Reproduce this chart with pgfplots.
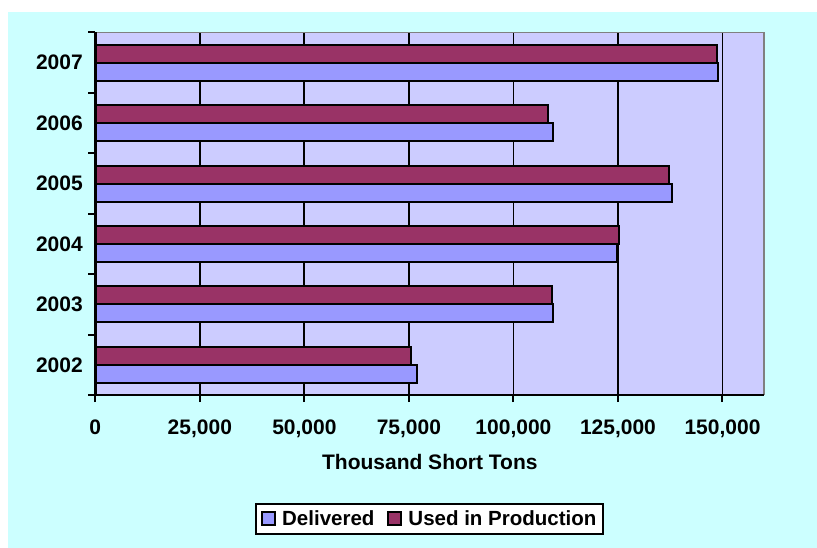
\documentclass[border=0pt]{standalone}
\usepackage{fontspec}
\setmainfont{Liberation Sans}
\usepackage{pgfplots}
\pgfplotsset{compat=1.18}
\definecolor{bgcyan}{HTML}{CCFFFF}
\definecolor{plotbg}{HTML}{CCCCFF}
\definecolor{deliv}{HTML}{9999FF}
\definecolor{used}{HTML}{993366}
\definecolor{bordergray}{HTML}{808080}
\newcommand{\chartfont}{\fontsize{21bp}{25bp}\selectfont\bfseries}
\newcommand{\legfont}{\fontsize{20.5bp}{24bp}\selectfont\bfseries}
\begin{document}
\begin{tikzpicture}
\fill[white] (0bp,0bp) rectangle (817bp,548bp);
\fill[bgcyan] (8bp,0bp) rectangle (817bp,536bp);
\begin{axis}[
  at={(95.3bp,153bp)}, anchor=south west,
  scale only axis, width=669bp, height=362.5bp,
  xbar, bar width=18bp,
  xmin=0, xmax=160000, ymin=-0.5, ymax=5.5,
  xtick={0,25000,50000,75000,100000,125000,150000},
  xticklabels={0,{25,000},{50,000},{75,000},{100,000},{125,000},{150,000}},
  ytick={-0.5,0.5,1.5,2.5,3.5,4.5,5.5},
  y tick label as interval=true,
  yticklabels={2002,2003,2004,2005,2006,2007},
  major tick length=7bp,
  tick align=outside,
  xtick pos=bottom, ytick pos=left,
  tick style={black, line width=2bp},
  axis line style={draw=none},
  axis background/.style={fill=plotbg},
  xmajorgrids, grid style={black, line width=1.8bp},
  scaled x ticks=false,
  tick label style={font=\chartfont},
  x tick label style={yshift=-14bp},
  y tick label style={xshift=-2bp},
  xlabel={Thousand Short Tons},
  xlabel style={font=\chartfont, at={(axis description cs:0.5,-0.186)}, anchor=center},
  clip=false,
  legend columns=2,
  legend style={at={(0.5,-0.342)}, anchor=center, draw=black, line width=2bp, fill=white,
    font=\legfont, inner xsep=5bp, inner ysep=5bp,
    /tikz/every even column/.append style={column sep=11bp}},
  legend image code/.code={\draw[#1, draw=black, line width=2bp] (0bp,-6.5bp) rectangle (13bp,6.5bp);
    \path (17bp,0bp);},
]
\addplot[fill=deliv, draw=black, line width=2bp, bar shift=-9bp] coordinates {
  (76870,0) (109450,1) (124860,2) (138040,3) (109570,4) (149040,5)};
\addplot[fill=used, draw=black, line width=2bp, bar shift=9bp] coordinates {
  (75570,0) (109300,1) (125200,2) (137320,3) (108370,4) (148660,5)};
\legend{Delivered, Used in Production}
\draw[bordergray, line width=1.8bp] (rel axis cs:0,1) -- (rel axis cs:1,1) -- (rel axis cs:1,0);
\draw[black, line width=2.5bp] (rel axis cs:0,1) -- (rel axis cs:0,0) -- (rel axis cs:1,0);
\end{axis}
\end{tikzpicture}
\end{document}
